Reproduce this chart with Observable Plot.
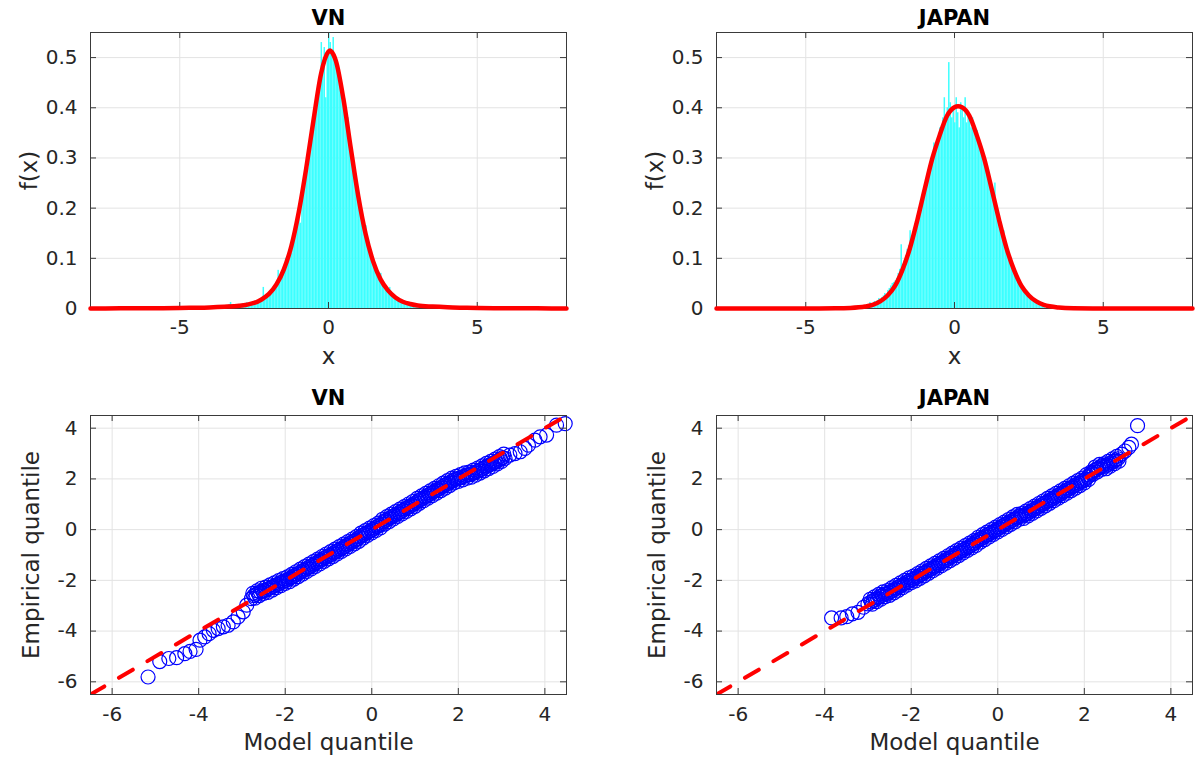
<!DOCTYPE html>
<html><head><meta charset="utf-8">
<script src="https://cdn.jsdelivr.net/npm/d3@7"></script>
<script src="https://cdn.jsdelivr.net/npm/@observablehq/plot@0.6"></script>
<style>
body{margin:0;background:#fff;width:1196px;height:759px;overflow:hidden;position:relative;font-family:"DejaVu Sans",sans-serif}
.panel{position:absolute}
</style></head><body>
<div id="tl" class="panel" style="left:0;top:0"></div>
<div id="tr" class="panel" style="left:626px;top:0"></div>
<div id="bl" class="panel" style="left:0;top:380px"></div>
<div id="br" class="panel" style="left:626px;top:380px"></div>
<script>
// ---------- tick labels ----------
const histXTicks = [-5, 0, 5];
const histYTicks = [0, 0.1, 0.2, 0.3, 0.4, 0.5];
const qqTicks = [-6, -4, -2, 0, 2, 4];

// ---------- histograms (density per bin, bin width 0.05) ----------
const binWidth = 0.05;
const vnBinStart = -4.0;
const vnHist = [
  0,0,0,0.006,0,0,0,0,0.004,0,
  0,0.004,0,0.008,0.012,0,0.004,0.006,0,0.008,
  0.006,0.004,0.01,0.006,0.008,0.012,0.004,0.008,0.01,0.012,
  0.012,0.014,0.01,0.018,0.016,0.02,0.042,0.022,0.026,0.03,
  0.03,0.034,0.036,0.042,0.046,0.05,0.076,0.06,0.068,0.074,
  0.08,0.1,0.092,0.104,0.118,0.11,0.14,0.146,0.16,0.175,
  0.19,0.17,0.22,0.232,0.25,0.265,0.28,0.31,0.33,0.35,
  0.38,0.4,0.42,0.43,0.46,0.53,0.49,0.52,0.42,0.51,
  0.55,0.53,0.51,0.54,0.5,0.48,0.47,0.45,0.44,0.42,
  0.40,0.38,0.37,0.38,0.33,0.32,0.3,0.28,0.26,0.24,
  0.21,0.2,0.18,0.17,0.155,0.165,0.13,0.125,0.11,0.1,
  0.085,0.08,0.07,0.065,0.06,0.07,0.05,0.045,0.042,0.038,
  0.036,0.042,0.034,0.022,0.02,0.018,0.016,0.014,0.012,0.011,
  0.01,0.008,0.012,0.006,0.008,0.005,0.006,0.004,0.006,0.003,
  0.004,0,0.003,0,0.004,0,0,0.002,0,0
];
const jpBinStart = -3.5;
const jpHist = [
  0,0,0.004,0,0,0.006,0,0.004,0,0.006,
  0.006,0.004,0.008,0.012,0.006,0.01,0.014,0.012,0.016,0.02,
  0.018,0.022,0.025,0.03,0.028,0.036,0.04,0.045,0.05,0.052,
  0.055,0.06,0.07,0.078,0.127,0.088,0.095,0.105,0.118,0.125,
  0.155,0.14,0.15,0.16,0.17,0.185,0.19,0.2,0.215,0.23,
  0.235,0.25,0.26,0.27,0.285,0.3,0.33,0.31,0.32,0.335,
  0.36,0.35,0.38,0.42,0.37,0.4,0.49,0.41,0.38,0.40,
  0.37,0.42,0.39,0.36,0.41,0.4,0.38,0.42,0.37,0.39,
  0.385,0.36,0.38,0.35,0.34,0.355,0.33,0.32,0.31,0.30,
  0.29,0.28,0.265,0.26,0.245,0.23,0.22,0.25,0.19,0.18,
  0.17,0.16,0.15,0.155,0.13,0.12,0.11,0.1,0.09,0.08,
  0.075,0.068,0.06,0.055,0.045,0.042,0.036,0.032,0.028,0.026,
  0.022,0.02,0.016,0.014,0.012,0.01,0.008,0.007,0.006,0.004,
  0.004,0,0.003,0,0.002,0,0,0,0,0
];

// ---------- fitted densities (red curves) ----------
const vnCurveX = [-8,-7,-6,-5,-4.5,-4,-3.5,-3,-2.75,-2.5,-2.25,-2,-1.75,-1.5,-1.25,-1,-0.75,-0.5,-0.25,0,0.05,0.1,0.25,0.5,0.75,1,1.25,1.5,1.75,2,2.25,2.5,2.75,3,3.5,4,4.5,5,6,7,8];
const vnCurveY = [0,0.0003,0.0006,0.001,0.0015,0.0022,0.0035,0.0055,0.0075,0.011,0.018,0.029,0.048,0.078,0.124,0.192,0.279,0.377,0.468,0.512,0.514,0.512,0.493,0.418,0.319,0.224,0.148,0.094,0.058,0.036,0.022,0.0135,0.009,0.006,0.0038,0.0024,0.0016,0.001,0.0006,0.0003,0];
const jpCurveX = [-8,-6,-5,-4,-3.5,-3,-2.75,-2.5,-2.25,-2,-1.75,-1.5,-1.25,-1,-0.75,-0.5,-0.25,0,0.12,0.25,0.5,0.75,1,1.25,1.5,1.75,2,2.25,2.5,2.75,3,3.5,4,5,6,8];
const jpCurveY = [0,0,0.0001,0.0004,0.0012,0.004,0.007,0.014,0.026,0.045,0.077,0.12,0.176,0.238,0.298,0.345,0.384,0.401,0.403,0.401,0.384,0.345,0.298,0.238,0.176,0.12,0.077,0.045,0.026,0.014,0.007,0.002,0.0006,0.0001,0,0];

// ---------- QQ plots ----------
const refLineX = [-6.5, 4.5];
const refLineY = [-6.5, 4.5];

const vnModel = [
  -5.17,-4.9,-4.69,-4.51,-4.32,-4.2,-4.06,-3.97,-3.86,-3.76,-3.66,-3.55,-3.43,-3.32,-3.2,-3.09,-2.97,-2.89,-2.78,
  -2.75,-2.7,-2.65,-2.6,-2.55,-2.5,-2.45,-2.4,-2.35,-2.3,
  -2.25,-2.2,-2.15,-2.1,-2.05,-2,-1.95,-1.9,-1.85,-1.8,
  -1.75,-1.7,-1.65,-1.6,-1.55,-1.5,-1.45,-1.4,-1.35,-1.3,
  -1.25,-1.2,-1.15,-1.1,-1.05,-1,-0.95,-0.9,-0.85,-0.8,
  -0.75,-0.7,-0.65,-0.6,-0.55,-0.5,-0.45,-0.4,-0.35,-0.3,
  -0.25,-0.2,-0.15,-0.1,-0.05,0,0.05,0.1,0.15,0.2,
  0.25,0.3,0.35,0.4,0.45,0.5,0.55,0.6,0.65,0.7,
  0.75,0.8,0.85,0.9,0.95,1,1.05,1.1,1.15,1.2,
  1.25,1.3,1.35,1.4,1.45,1.5,1.55,1.6,1.65,1.7,
  1.75,1.8,1.85,1.9,1.95,2,2.05,2.1,2.15,2.2,
  2.25,2.3,2.35,2.4,2.45,2.5,2.55,2.6,2.65,2.7,
  2.75,2.8,2.85,2.9,2.95,3,3.05,
  3.08,3.19,3.31,3.43,3.54,3.62,3.77,3.89,4.04,4.27,4.47,
  -2.725,-2.675,-2.625,-2.575,-2.525,-2.475,-2.425,-2.375,-2.325,-2.275,
  -2.225,-2.175,-2.125,-2.075,-2.025,-1.975,-1.925,-1.875,-1.825,-1.775,
  -1.725,-1.675,-1.625,-1.575,-1.525,-1.475,-1.425,-1.375,-1.325,-1.275,
  -1.225,-1.175,-1.125,-1.075,-1.025,-0.975,-0.925,-0.875,-0.825,-0.775,
  -0.725,-0.675,-0.625,-0.575,-0.525,-0.475,-0.425,-0.375,-0.325,-0.275,
  -0.225,-0.175,-0.125,-0.075,-0.025,0.025,0.075,0.125,0.175,0.225,
  0.275,0.325,0.375,0.425,0.475,0.525,0.575,0.625,0.675,0.725,
  0.775,0.825,0.875,0.925,0.975,1.025,1.075,1.125,1.175,1.225,
  1.275,1.325,1.375,1.425,1.475,1.525,1.575,1.625,1.675,1.725,
  1.775,1.825,1.875,1.925,1.975,2.025,2.075,2.125,2.175,2.225,
  2.275,2.325,2.375,2.425,2.475,2.525,2.575,2.625,2.675,2.725,
  2.775,2.825,2.875,2.925,2.975,3.025
];
const vnEmpirical = [
  -5.81,-5.2,-5.08,-5.05,-4.89,-4.8,-4.72,-4.36,-4.23,-4.1,-3.97,-3.9,-3.83,-3.77,-3.64,-3.44,-3.24,-2.98,-2.72,
  -2.51,-2.70,-2.41,-2.60,-2.31,-2.51,-2.27,-2.47,-2.18,-2.38,
  -2.10,-2.29,-2.01,-2.21,-1.93,-2.12,-1.86,-2.05,-1.76,-1.95,
  -1.66,-1.85,-1.56,-1.75,-1.46,-1.65,-1.36,-1.55,-1.26,-1.45,
  -1.16,-1.35,-1.06,-1.25,-0.96,-1.15,-0.87,-1.06,-0.77,-0.96,
  -0.67,-0.86,-0.57,-0.76,-0.47,-0.66,-0.37,-0.56,-0.27,-0.46,
  -0.14,-0.33,-0.04,-0.23,0.06,-0.13,0.16,-0.03,0.26,0.07,
  0.41,0.22,0.51,0.32,0.61,0.42,0.71,0.52,0.81,0.62,
  0.91,0.72,1.01,0.82,1.11,0.92,1.23,1.04,1.33,1.14,
  1.43,1.24,1.53,1.34,1.63,1.44,1.73,1.54,1.83,1.64,
  1.93,1.74,2.03,1.84,2.10,1.90,2.17,1.96,2.24,2.03,
  2.27,2.07,2.35,2.15,2.43,2.23,2.51,2.32,2.61,2.41,
  2.69,2.49,2.78,2.59,2.88,2.69,2.98,
  2.81,2.94,3.0,3.07,3.2,3.33,3.53,3.66,3.73,4.12,4.18,
  -2.605,-2.555,-2.505,-2.455,-2.405,-2.405,-2.365,-2.32,-2.28,-2.24,
  -2.2,-2.155,-2.11,-2.065,-2.02,-2.005,-1.955,-1.905,-1.855,-1.805,
  -1.755,-1.705,-1.655,-1.605,-1.555,-1.505,-1.455,-1.405,-1.355,-1.305,
  -1.255,-1.205,-1.155,-1.105,-1.055,-1.015,-0.965,-0.915,-0.865,-0.815,
  -0.765,-0.715,-0.665,-0.615,-0.565,-0.515,-0.465,-0.415,-0.365,-0.285,
  -0.235,-0.185,-0.135,-0.085,-0.035,0.015,0.065,0.115,0.165,0.215,
  0.315,0.365,0.415,0.465,0.515,0.565,0.615,0.665,0.715,0.765,
  0.815,0.865,0.915,0.965,1.015,1.065,1.135,1.185,1.235,1.285,
  1.335,1.385,1.435,1.485,1.535,1.585,1.635,1.685,1.735,1.785,
  1.835,1.885,1.935,1.985,2.0,2.035,2.065,2.1,2.135,2.17,
  2.17,2.21,2.25,2.29,2.33,2.37,2.42,2.465,2.51,2.55,
  2.59,2.635,2.685,2.735,2.785,2.835
];

const jpModel = [
  -3.84,-3.62,-3.49,-3.36,-3.23,-3.1,-3.0,
  -2.95,-2.9,-2.85,-2.8,-2.75,-2.7,-2.65,-2.6,-2.55,-2.5,
  -2.45,-2.4,-2.35,-2.3,-2.25,-2.2,-2.15,-2.1,-2.05,-2,
  -1.95,-1.9,-1.85,-1.8,-1.75,-1.7,-1.65,-1.6,-1.55,-1.5,
  -1.45,-1.4,-1.35,-1.3,-1.25,-1.2,-1.15,-1.1,-1.05,-1,
  -0.95,-0.9,-0.85,-0.8,-0.75,-0.7,-0.65,-0.6,-0.55,-0.5,
  -0.45,-0.4,-0.35,-0.3,-0.25,-0.2,-0.15,-0.1,-0.05,0,
  0.05,0.1,0.15,0.2,0.25,0.3,0.35,0.4,0.45,0.5,
  0.55,0.6,0.65,0.7,0.75,0.8,0.85,0.9,0.95,1,
  1.05,1.1,1.15,1.2,1.25,1.3,1.35,1.4,1.45,1.5,
  1.55,1.6,1.65,1.7,1.75,1.8,1.85,1.9,1.95,2,
  2.05,2.1,2.15,2.2,2.25,2.3,2.35,2.4,2.45,2.5,
  2.55,2.6,2.65,2.7,2.75,2.8,
  2.86,2.94,3.03,3.09,3.23,
  -2.925,-2.875,-2.825,-2.775,-2.725,-2.675,-2.625,-2.575,-2.525,-2.475,
  -2.425,-2.375,-2.325,-2.275,-2.225,-2.175,-2.125,-2.075,-2.025,-1.975,
  -1.925,-1.875,-1.825,-1.775,-1.725,-1.675,-1.625,-1.575,-1.525,-1.475,
  -1.425,-1.375,-1.325,-1.275,-1.225,-1.175,-1.125,-1.075,-1.025,-0.975,
  -0.925,-0.875,-0.825,-0.775,-0.725,-0.675,-0.625,-0.575,-0.525,-0.475,
  -0.425,-0.375,-0.325,-0.275,-0.225,-0.175,-0.125,-0.075,-0.025,0.025,
  0.075,0.125,0.175,0.225,0.275,0.325,0.375,0.425,0.475,0.525,
  0.575,0.625,0.675,0.725,0.775,0.825,0.875,0.925,0.975,1.025,
  1.075,1.125,1.175,1.225,1.275,1.325,1.375,1.425,1.475,1.525,
  1.575,1.625,1.675,1.725,1.775,1.825,1.875,1.925,1.975,2.025,
  2.075,2.125,2.175,2.225,2.275,2.325,2.375,2.425,2.475,2.525,
  2.575,2.625,2.675,2.725,2.775
];
const jpEmpirical = [
  -3.48,-3.48,-3.43,-3.32,-3.26,-3.06,-2.93,
  -2.75,-2.94,-2.65,-2.84,-2.55,-2.74,-2.45,-2.64,-2.40,-2.59,
  -2.30,-2.49,-2.20,-2.39,-2.10,-2.29,-2.00,-2.19,-1.90,-2.09,
  -1.83,-2.02,-1.73,-1.92,-1.63,-1.82,-1.53,-1.72,-1.43,-1.62,
  -1.33,-1.52,-1.23,-1.42,-1.13,-1.32,-1.03,-1.22,-0.93,-1.12,
  -0.83,-1.02,-0.73,-0.92,-0.63,-0.82,-0.53,-0.72,-0.43,-0.62,
  -0.30,-0.49,-0.20,-0.39,-0.10,-0.29,0.00,-0.19,0.10,-0.09,
  0.20,0.01,0.30,0.11,0.40,0.21,0.50,0.31,0.60,0.41,
  0.63,0.44,0.73,0.54,0.83,0.64,0.93,0.74,1.03,0.84,
  1.13,0.94,1.23,1.04,1.33,1.14,1.43,1.24,1.53,1.34,
  1.63,1.44,1.73,1.54,1.83,1.64,1.93,1.74,2.03,1.84,
  2.17,1.98,2.27,2.18,2.47,2.28,2.57,2.38,2.59,2.40,
  2.69,2.50,2.79,2.60,2.89,2.70,
  2.98,3.1,3.24,3.37,4.1,
  -2.845,-2.795,-2.745,-2.695,-2.645,-2.595,-2.545,-2.545,-2.495,-2.445,
  -2.395,-2.345,-2.295,-2.245,-2.195,-2.145,-2.095,-2.045,-1.995,-1.975,
  -1.925,-1.875,-1.825,-1.775,-1.725,-1.675,-1.625,-1.575,-1.525,-1.475,
  -1.425,-1.375,-1.325,-1.275,-1.225,-1.175,-1.125,-1.075,-1.025,-0.975,
  -0.925,-0.875,-0.825,-0.775,-0.725,-0.675,-0.625,-0.575,-0.525,-0.445,
  -0.395,-0.345,-0.295,-0.245,-0.195,-0.145,-0.095,-0.045,0.005,0.055,
  0.105,0.155,0.205,0.255,0.305,0.355,0.405,0.455,0.505,0.555,
  0.535,0.585,0.635,0.685,0.735,0.785,0.835,0.885,0.935,0.985,
  1.035,1.085,1.135,1.185,1.235,1.285,1.335,1.385,1.435,1.485,
  1.535,1.585,1.635,1.685,1.735,1.785,1.835,1.885,1.935,1.985,
  2.075,2.15,2.225,2.325,2.375,2.425,2.475,2.525,2.495,2.545,
  2.595,2.645,2.695,2.745,2.795
];

// ---------- styles ----------
const FONT = '"DejaVu Sans", "Liberation Sans", sans-serif';
const CYAN = "#3cffff";
const RED = "#ff0000";
const BLUE = "#0000ff";
const GRID = "#e3e3e3";
const FRAME = "#3a3a3a";
const fmt = d => String(d);

function histPanel({title, hist, start, curveX, curveY, right}) {
  const W = right ? 570 : 598, H = 380;
  const mL = 90, mR = right ? 4 : 32, mT = 32, mB = 72;
  const innerH = H - mT - mB, innerW = W - mL - mR;
  const bins = hist.map((v, i) => ({x1: start + i * binWidth, x2: start + (i + 1) * binWidth, y: v}));
  const curve = curveX.map((x, i) => ({x, y: curveY[i]}));
  return Plot.plot({
    width: W, height: H, marginLeft: mL, marginRight: mR, marginTop: mT, marginBottom: mB,
    style: {fontFamily: FONT, fontSize: "20px", color: "#262626", background: "transparent", overflow: "visible"},
    x: {domain: [-8, 8]},
    y: {domain: [0, 0.55]},
    marks: [
      Plot.gridX(histXTicks, {stroke: GRID, strokeOpacity: 1}),
      Plot.gridY(histYTicks, {stroke: GRID, strokeOpacity: 1}),
      Plot.rectY(bins, {x1: "x1", x2: "x2", y: "y", fill: CYAN, clip: true}),
      Plot.frame({stroke: FRAME}),
      Plot.tickX(histXTicks, {x: d => d, insetTop: innerH - 6, stroke: FRAME}),
      Plot.tickX(histXTicks, {x: d => d, insetBottom: innerH - 6, stroke: FRAME}),
      Plot.tickY(histYTicks, {y: d => d, insetRight: innerW - 6, stroke: FRAME}),
      Plot.tickY(histYTicks, {y: d => d, insetLeft: innerW - 6, stroke: FRAME}),
      Plot.line(curve, {x: "x", y: "y", stroke: RED, strokeWidth: 4.5, curve: "monotone-x"}),
      Plot.axisX(histXTicks, {tickSize: 0, tickPadding: 11, label: null, tickFormat: fmt}),
      Plot.axisY(histYTicks, {tickSize: 0, tickPadding: 13, label: null, tickFormat: fmt}),
      Plot.text(["x"], {text: d => d, frameAnchor: "bottom", dy: 48, lineAnchor: "middle", fontSize: 23}),
      Plot.text(["f(x)"], {text: d => d, frameAnchor: "left", dx: -61, rotate: -90, lineAnchor: "middle", textAnchor: "middle", fontSize: 23}),
      Plot.text([title], {text: d => d, frameAnchor: "top", dy: -14, lineAnchor: "middle", fontWeight: "bold", fontSize: 21, fill: "#000"})
    ]
  });
}

function qqPanel({title, model, empirical, right}) {
  const W = right ? 570 : 598, H = 379;
  const mL = 90, mR = right ? 4 : 32, mT = 35, mB = 65;
  const innerH = H - mT - mB, innerW = W - mL - mR;
  const pts = model.map((m, i) => ({m, e: empirical[i]}));
  const ref = refLineX.map((x, i) => ({x, y: refLineY[i]}));
  return Plot.plot({
    width: W, height: H, marginLeft: mL, marginRight: mR, marginTop: mT, marginBottom: mB,
    style: {fontFamily: FONT, fontSize: "20px", color: "#262626", background: "transparent", overflow: "visible"},
    x: {domain: [-6.5, 4.5]},
    y: {domain: [-6.5, 4.5]},
    marks: [
      Plot.gridX(qqTicks, {stroke: GRID, strokeOpacity: 1}),
      Plot.gridY(qqTicks, {stroke: GRID, strokeOpacity: 1}),
      Plot.dot(pts, {x: "m", y: "e", r: 7, stroke: BLUE, fill: "none", strokeWidth: 1.2}),
      Plot.line(ref, {x: "x", y: "y", stroke: RED, strokeWidth: 4, strokeDasharray: "16,17", clip: true}),
      Plot.frame({stroke: FRAME}),
      Plot.tickX(qqTicks, {x: d => d, insetTop: innerH - 6, stroke: FRAME}),
      Plot.tickX(qqTicks, {x: d => d, insetBottom: innerH - 6, stroke: FRAME}),
      Plot.tickY(qqTicks, {y: d => d, insetRight: innerW - 6, stroke: FRAME}),
      Plot.tickY(qqTicks, {y: d => d, insetLeft: innerW - 6, stroke: FRAME}),
      Plot.axisX(qqTicks, {tickSize: 0, tickPadding: 12, label: null, tickFormat: fmt}),
      Plot.axisY(qqTicks, {tickSize: 0, tickPadding: 13, label: null, tickFormat: fmt}),
      Plot.text(["Model quantile"], {text: d => d, frameAnchor: "bottom", dy: 48, lineAnchor: "middle", fontSize: 23}),
      Plot.text(["Empirical quantile"], {text: d => d, frameAnchor: "left", dx: -59, rotate: -90, lineAnchor: "middle", textAnchor: "middle", fontSize: 23}),
      Plot.text([title], {text: d => d, frameAnchor: "top", dy: -17, lineAnchor: "middle", fontWeight: "bold", fontSize: 21, fill: "#000"})
    ]
  });
}

document.getElementById("tl").append(histPanel({title: "VN", hist: vnHist, start: vnBinStart, curveX: vnCurveX, curveY: vnCurveY, right: false}));
document.getElementById("tr").append(histPanel({title: "JAPAN", hist: jpHist, start: jpBinStart, curveX: jpCurveX, curveY: jpCurveY, right: true}));
document.getElementById("bl").append(qqPanel({title: "VN", model: vnModel, empirical: vnEmpirical, right: false}));
document.getElementById("br").append(qqPanel({title: "JAPAN", model: jpModel, empirical: jpEmpirical, right: true}));
</script>
</body></html>
